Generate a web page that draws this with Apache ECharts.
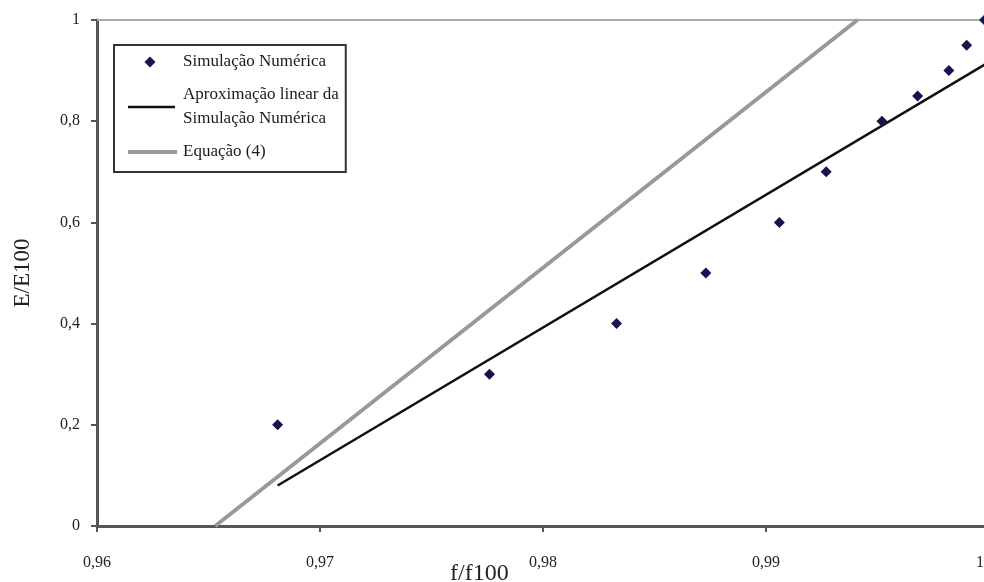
<!DOCTYPE html>
<html>
<head>
<meta charset="utf-8">
<script src="https://cdn.jsdelivr.net/npm/echarts@6/dist/echarts.min.js"></script>
<style>
  html, body { margin: 0; padding: 0; background: #fff; }
  #chart { width: 984px; height: 582px; }
</style>
</head>
<body>
<div id="chart"></div>
<script>
// pontos da simulação numérica (f/f100, E/E100)
const simX = [0.9681, 0.9776, 0.9833, 0.9873, 0.9906, 0.9927, 0.9952, 0.9968, 0.9982, 0.9990, 0.9998];
const simY = [0.20, 0.30, 0.40, 0.50, 0.60, 0.70, 0.80, 0.85, 0.90, 0.95, 1.00];

// aproximação linear (extremos)
const fitX = [0.9681, 1.0];
const fitY = [0.08, 0.917];

// equação (4)
const eqX = [0.9653, 0.9941];
const eqY = [0, 1];

const serif = '"Liberation Serif", "DejaVu Serif", serif';
const zip = (xs, ys) => xs.map((x, i) => [x, ys[i]]);
const fmt = v => String(+v.toFixed(2)).replace('.', ',');

// icones da legenda (os M extremos fixam a caixa 50x12 para nao deformar)
const iconDiamond = 'path://M0,0M50,12M22,0.5L27.5,6L22,11.5L16.5,6Z';
const iconBlack = 'path://M0,0M50,12M0,4.8L47,4.8L47,7.2L0,7.2Z';
const iconGray = 'path://M0,0M50,12M0,4L49,4L49,8L0,8Z';

const chart = echarts.init(document.getElementById('chart'));
chart.setOption({
  animation: false,
  grid: { left: 97, top: 20, right: -5, bottom: 56, outerBoundsMode: 'none', containLabel: false },
  legend: {
    orient: 'vertical',
    left: 114,
    top: 45,
    padding: [5, 7, 8, 14],
    itemGap: 9,
    itemWidth: 50,
    itemHeight: 12,
    borderColor: '#333',
    borderWidth: 2,
    textStyle: { fontFamily: serif, fontSize: 17, color: '#1a1a1a', lineHeight: 24 },
    data: [
      { name: 'Simulação Numérica', icon: iconDiamond },
      { name: 'Aproximação linear da\nSimulação Numérica', icon: iconBlack },
      { name: 'Equação (4)', icon: iconGray }
    ]
  },
  xAxis: [
    {
      type: 'value',
      min: 0.96,
      max: 1,
      interval: 0.01,
      axisLine: { lineStyle: { color: '#555', width: 3 } },
      axisTick: { length: 6, lineStyle: { color: '#555', width: 2 } },
      splitLine: { show: false },
      axisLabel: {
        margin: 29, fontFamily: serif, fontSize: 16, color: '#222',
        // o "1" fica encostado na borda direita
        formatter: v => v >= 1 ? '{r|' + fmt(v) + '}' : fmt(v),
        rich: { r: { fontFamily: serif, fontSize: 16, color: '#222', padding: [0, 18, 0, 0] } }
      }
    },
    {
      type: 'value',
      position: 'top',
      min: 0.96,
      max: 1,
      axisLine: { show: true, lineStyle: { color: '#aaa', width: 2 } },
      axisTick: { show: false },
      axisLabel: { show: false },
      splitLine: { show: false }
    }
  ],
  yAxis: {
    type: 'value',
    min: 0,
    max: 1,
    interval: 0.2,
    name: 'E/E100',
    nameLocation: 'middle',
    nameRotate: 90,
    nameGap: 63,
    nameTextStyle: { fontFamily: serif, fontSize: 23, color: '#222' },
    axisLine: { show: true, lineStyle: { color: '#555', width: 3 } },
    axisTick: { show: true, length: 6, lineStyle: { color: '#555', width: 2 } },
    splitLine: { show: false },
    axisLabel: { margin: 17, fontFamily: serif, fontSize: 16, color: '#222', formatter: fmt }
  },
  graphic: [{
    type: 'text',
    left: 450,
    top: 562,
    style: { text: 'f/f100', font: '24px ' + serif, fill: '#222' }
  }],
  series: [
    {
      name: 'Simulação Numérica',
      type: 'scatter',
      symbol: 'diamond',
      symbolSize: 11,
      itemStyle: { color: '#14144f', opacity: 1 },
      data: zip(simX, simY),
      z: 5
    },
    {
      name: 'Aproximação linear da\nSimulação Numérica',
      type: 'line',
      symbol: 'none',
      lineStyle: { color: '#111', width: 2.5 },
      itemStyle: { color: '#111' },
      data: zip(fitX, fitY)
    },
    {
      name: 'Equação (4)',
      type: 'line',
      symbol: 'none',
      lineStyle: { color: '#999', width: 4 },
      itemStyle: { color: '#999' },
      data: zip(eqX, eqY)
    }
  ]
});
</script>
</body>
</html>
